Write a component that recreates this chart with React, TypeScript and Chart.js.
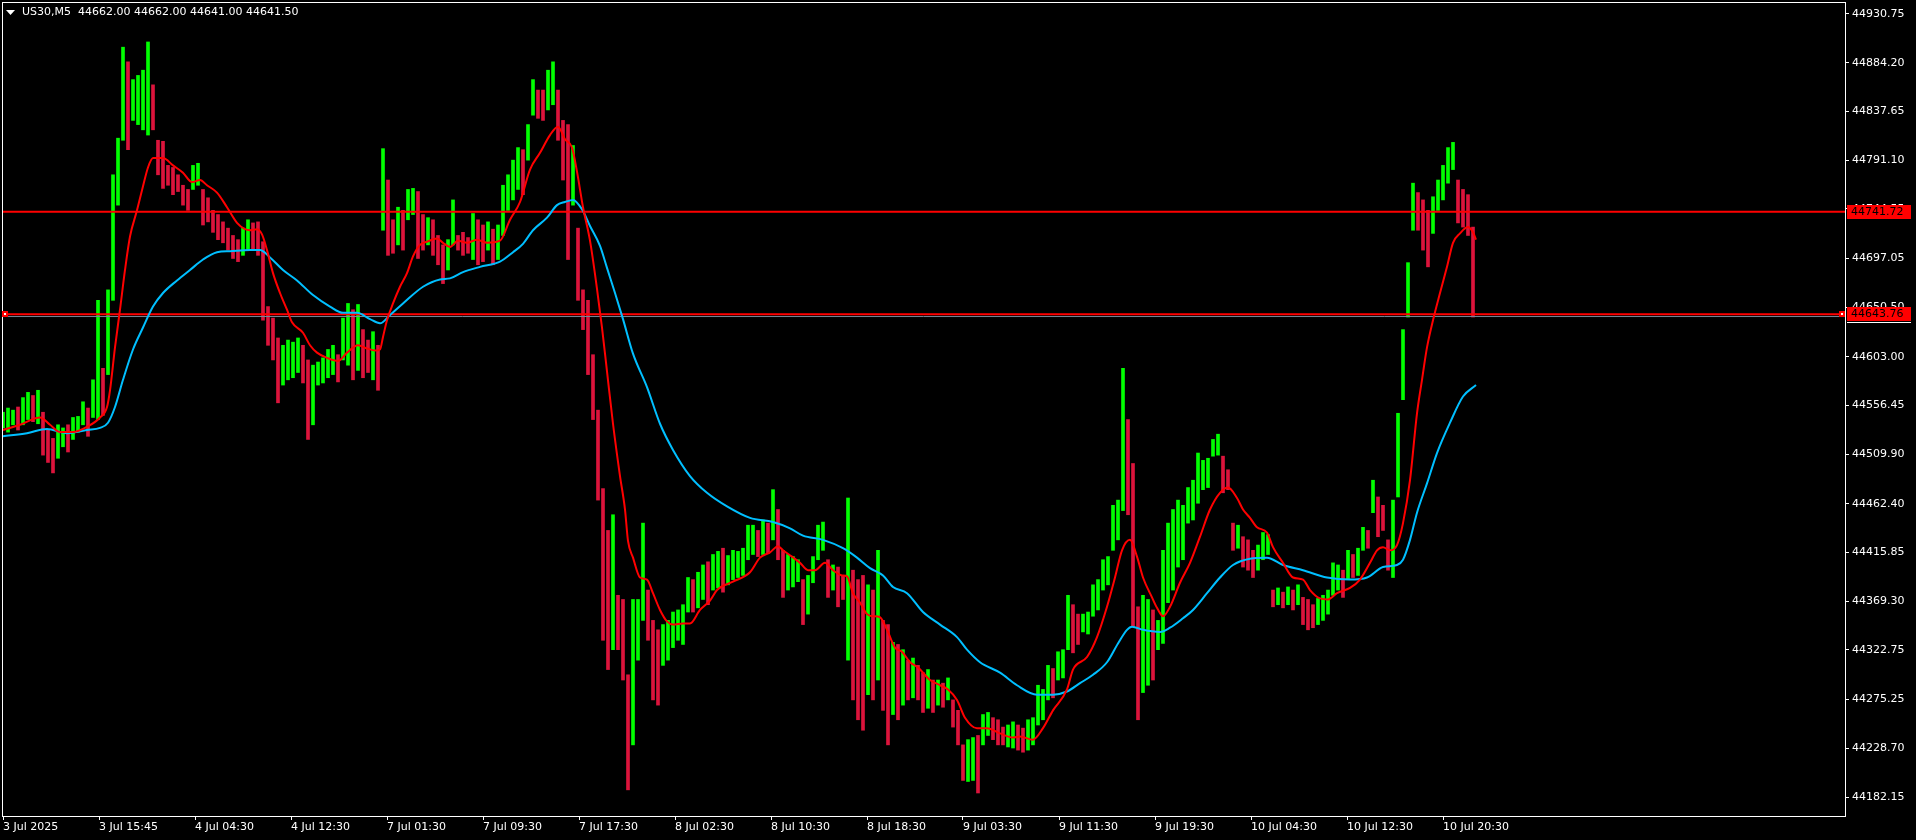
import React, { useEffect, useRef } from "react";
import { Chart, registerables } from "chart.js";

Chart.register(...registerables);

// ---------- chart data ----------
const symbolTitle = "US30,M5  44662.00 44662.00 44641.00 44641.50";
const barsPerSample = 5; // each sample summarises 5 M5 bars

const sampleHighs = [
  44550, 44554, 44552, 44555, 44564, 44569, 44566, 44571, 44550, 44533,
  44525, 44538, 44535, 44538, 44545, 44546, 44560, 44554, 44581, 44657,
  44592, 44667, 44777, 44812, 44899, 44885, 44868, 44872, 44877, 44904,
  44863, 44810, 44809, 44786, 44784, 44777, 44767, 44763, 44786, 44788,
  44763, 44755, 44743, 44739, 44732, 44726, 44719, 44715, 44726, 44734,
  44731, 44732, 44713, 44651, 44640, 44621, 44614, 44619, 44617, 44621,
  44614, 44600, 44595, 44598, 44602, 44610, 44614, 44605, 44640, 44654,
  44648, 44653, 44629, 44619, 44627, 44614, 44802, 44772, 44734, 44746,
  44743, 44763, 44764, 44761, 44739, 44736, 44734, 44719, 44710, 44715,
  44753, 44719, 44722, 44717, 44740, 44734, 44729, 44732, 44725, 44729,
  44767, 44777, 44791, 44803, 44801, 44825, 44868, 44858, 44858, 44877,
  44885, 44858, 44829, 44825, 44805, 44726, 44667, 44657, 44605, 44552,
  44477, 44437, 44452, 44375, 44371, 44299, 44371, 44371, 44444, 44380,
  44351, 44342, 44347, 44351, 44359, 44361, 44366, 44392, 44390, 44397,
  44404, 44407, 44414, 44417, 44420, 44413, 44418, 44417, 44420, 44442,
  44442, 44437, 44447, 44444, 44476, 44457, 44418, 44414, 44412, 44409,
  44390, 44394, 44412, 44442, 44445, 44409, 44404, 44402, 44394, 44468,
  44399, 44390, 44394, 44385, 44380, 44418, 44351, 44347, 44330, 44328,
  44323, 44313, 44315, 44308, 44301, 44304, 44294, 44294, 44291, 44296,
  44275, 44265, 44232, 44237, 44239, 44241, 44261, 44263, 44258, 44256,
  44249, 44251, 44254, 44251, 44248, 44256, 44258, 44289, 44285, 44308,
  44305, 44321, 44323, 44375, 44366, 44357, 44357, 44359, 44385, 44390,
  44409, 44412, 44461, 44466, 44592, 44543, 44501, 44364, 44375, 44371,
  44361, 44351, 44418, 44444, 44457, 44466, 44461, 44478, 44485, 44511,
  44504, 44506, 44524, 44529, 44508, 44495, 44444, 44442, 44431, 44428,
  44418, 44423, 44435, 44433, 44380, 44382, 44378, 44383, 44380, 44385,
  44373, 44371, 44366, 44372, 44375, 44380, 44406, 44404, 44399, 44418,
  44414, 44420, 44440, 44437, 44485, 44469, 44461, 44428, 44466, 44549,
  44629, 44693, 44769, 44760, 44753, 44743, 44756, 44772, 44786, 44803,
  44808, 44772, 44763, 44758, 44727,
];

const sampleLows = [
  44535, 44531, 44538, 44533, 44538, 44543, 44541, 44539, 44509, 44502,
  44492, 44506, 44517, 44512, 44524, 44531, 44538, 44527, 44545, 44543,
  44547, 44586, 44657, 44748, 44810, 44801, 44829, 44825, 44820, 44815,
  44820, 44777, 44764, 44767, 44758, 44761, 44748, 44743, 44763, 44767,
  44729, 44732, 44722, 44715, 44712, 44705, 44697, 44694, 44700, 44705,
  44705, 44700, 44638, 44614, 44600, 44559, 44576, 44581, 44583, 44588,
  44578, 44524, 44538, 44576, 44578, 44583, 44586, 44579, 44600, 44595,
  44581, 44590, 44583, 44588, 44581, 44571, 44724, 44700, 44702, 44710,
  44705, 44734, 44739, 44697, 44705, 44710, 44700, 44691, 44673, 44686,
  44710, 44705, 44700, 44702, 44696, 44691, 44694, 44705, 44691, 44696,
  44719, 44743, 44753, 44763, 44758, 44791, 44834, 44831, 44829, 44839,
  44844, 44810, 44772, 44696, 44748, 44657, 44629, 44586, 44543, 44466,
  44332, 44304, 44323, 44323, 44294, 44189, 44232, 44313, 44351, 44332,
  44275, 44270, 44308, 44313, 44325, 44332, 44328, 44359, 44359, 44363,
  44371, 44366, 44380, 44382, 44378, 44385, 44390, 44392, 44394, 44409,
  44414, 44412, 44414, 44415, 44428, 44409, 44373, 44380, 44383, 44388,
  44347, 44357, 44387, 44409, 44418, 44373, 44380, 44364, 44371, 44313,
  44275, 44256, 44246, 44280, 44275, 44294, 44265, 44232, 44261, 44256,
  44270, 44275, 44277, 44275, 44263, 44267, 44263, 44270, 44268, 44275,
  44249, 44232, 44198, 44197, 44198, 44186, 44232, 44241, 44237, 44232,
  44232, 44230, 44229, 44227, 44225, 44227, 44232, 44251, 44256, 44275,
  44277, 44294, 44296, 44323, 44320, 44328, 44340, 44338, 44355, 44361,
  44380, 44385, 44418, 44428, 44456, 44452, 44345, 44256, 44282, 44289,
  44294, 44323, 44329, 44368, 44380, 44402, 44409, 44444, 44447, 44463,
  44476, 44478, 44508, 44509, 44473, 44476, 44418, 44420, 44402, 44399,
  44392, 44399, 44409, 44414, 44364, 44366, 44363, 44366, 44361, 44366,
  44347, 44342, 44344, 44347, 44351, 44357, 44375, 44380, 44373, 44390,
  44392, 44394, 44418, 44420, 44454, 44431, 44437, 44399, 44392, 44469,
  44562, 44641, 44724, 44724, 44705, 44689, 44721, 44743, 44753, 44769,
  44782, 44731, 44727, 44719, 44641,
];

// fast moving average (red), bar index -> price
const fastMaBars = [
  0, 17, 37, 47, 57, 70, 84, 97, 104, 107, 112, 117, 122, 127, 134, 140, 145, 150, 160, 170,
  180, 189, 197, 204, 214, 224, 234, 242, 247, 254, 259, 264, 270, 277, 284, 289, 300, 307, 314, 324,
  335, 344, 355, 364, 372, 377, 380, 384, 390, 397, 404, 410, 417, 424, 434, 440, 447, 455, 464, 474,
  484, 497, 507, 517, 527, 537, 547, 555, 562, 569, 574, 580, 587, 594, 599, 604, 610, 617, 622, 625,
  630, 637, 644, 650, 657, 664, 670, 680, 687, 697, 707, 714, 730, 747, 757, 767, 775, 780, 789, 797,
  805, 812, 822, 830, 839, 844, 850, 857, 864, 870, 877, 884, 892, 899, 907, 915, 927, 937, 945, 954,
  962, 974, 984, 997, 1010, 1017, 1030, 1040, 1050, 1064, 1070, 1084, 1094, 1104, 1112, 1119, 1127, 1134, 1140, 1149,
  1154, 1160, 1167, 1177, 1187, 1197, 1207, 1217, 1225, 1234, 1240, 1247, 1254, 1264, 1270, 1280, 1290, 1300, 1307, 1317,
  1325, 1334, 1347, 1357, 1367, 1374, 1380, 1387, 1394, 1400, 1407, 1414, 1419, 1424, 1430, 1437, 1444, 1450, 1457, 1465,
  1470, 1473,
];
const fastMa = [
  44533, 44538, 44545, 44538, 44531, 44531, 44536, 44545, 44555, 44571, 44612, 44648, 44686, 44718, 44743, 44766, 44784, 44793, 44793, 44786,
  44779, 44770, 44772, 44767, 44760, 44746, 44731, 44725, 44724, 44725, 44720, 44705, 44683, 44664, 44648, 44636, 44626, 44614, 44607, 44602,
  44599, 44607, 44614, 44611, 44609, 44610, 44622, 44638, 44654, 44670, 44683, 44699, 44710, 44713, 44716, 44712, 44708, 44714, 44712, 44715,
  44712, 44714, 44734, 44751, 44782, 44798, 44815, 44823, 44811, 44803, 44780, 44746, 44714, 44668, 44631, 44589, 44539, 44489, 44457, 44427,
  44411, 44392, 44390, 44377, 44361, 44350, 44347, 44348, 44348, 44361, 44370, 44380, 44388, 44397, 44411, 44416, 44422, 44418, 44412, 44406,
  44399, 44399, 44406, 44399, 44394, 44393, 44377, 44368, 44357, 44355, 44354, 44342, 44325, 44321, 44311, 44306, 44294, 44289, 44285, 44275,
  44258, 44248, 44248, 44243, 44239, 44240, 44237, 44248, 44265, 44285, 44304, 44316, 44335, 44364, 44392, 44418, 44428, 44412, 44392, 44373,
  44363, 44355, 44364, 44387, 44406, 44431, 44457, 44473, 44478, 44468, 44457, 44449, 44440, 44435, 44421, 44406, 44392, 44390, 44380, 44372,
  44371, 44377, 44382, 44390, 44406, 44418, 44421, 44418, 44423, 44444, 44485, 44549, 44581, 44612, 44638, 44664, 44689, 44712, 44721, 44727,
  44722, 44715,
];

// slow moving average (blue)
const slowMaBars = [
  0, 24, 44, 64, 84, 97, 105, 112, 120, 130, 140, 150, 160, 174, 187, 200, 214, 227, 247, 257,
  267, 280, 294, 310, 327, 340, 354, 367, 377, 387, 400, 420, 437, 447, 460, 477, 497, 510, 520, 530,
  544, 554, 562, 570, 579, 587, 597, 604, 612, 620, 630, 644, 657, 670, 687, 704, 724, 747, 770, 787,
  800, 820, 840, 854, 867, 880, 890, 904, 920, 937, 954, 964, 977, 997, 1014, 1034, 1050, 1064, 1077, 1090,
  1104, 1115, 1124, 1129, 1140, 1157, 1167, 1180, 1190, 1204, 1217, 1230, 1247, 1264, 1280, 1300, 1324, 1347, 1364, 1380,
  1394, 1400, 1407, 1414, 1424, 1434, 1447, 1460, 1473,
];
const slowMa = [
  44527, 44530, 44534, 44530, 44533, 44535, 44540, 44555, 44581, 44610, 44631, 44651, 44664, 44676, 44686, 44696, 44703, 44704, 44705, 44705,
  44698, 44686, 44676, 44662, 44651, 44645, 44645, 44639, 44635, 44643, 44654, 44670, 44677, 44678, 44684, 44689, 44694, 44703, 44711, 44724,
  44736, 44748, 44751, 44753, 44744, 44728, 44709, 44688, 44664, 44639, 44606, 44574, 44539, 44514, 44489, 44473, 44460, 44449, 44445, 44439,
  44432, 44428, 44420, 44411, 44401, 44394, 44383, 44377, 44359, 44347, 44335, 44323, 44311, 44301, 44289, 44280, 44280, 44283, 44291, 44299,
  44311, 44329, 44342, 44345, 44342, 44340, 44344, 44353, 44361, 44377, 44392, 44404, 44410, 44411, 44404, 44399, 44392, 44390, 44392, 44402,
  44404, 44409, 44428, 44454, 44482, 44511, 44540, 44565, 44576,
];

const levelPrices = [44741.72, 44643.76];
const bidPrice = 44641.5;

const priceTicks = [
  44930.75, 44884.2, 44837.65, 44791.1, 44744.55, 44697.05, 44650.5, 44603.0, 44556.45,
  44509.9, 44462.4, 44415.85, 44369.3, 44322.75, 44275.25, 44228.7, 44182.15,
];
const priceMin = 44164.0;
const priceMax = 44942.2;

const timeTickBars = [0, 96, 192, 288, 384, 480, 576, 672, 768, 864, 960, 1056, 1152, 1248, 1344, 1440];
const timeTickLabels = [
  "3 Jul 2025", "3 Jul 15:45", "4 Jul 04:30", "4 Jul 12:30", "7 Jul 01:30", "7 Jul 09:30",
  "7 Jul 17:30", "8 Jul 02:30", "8 Jul 10:30", "8 Jul 18:30", "9 Jul 03:30", "9 Jul 11:30",
  "9 Jul 19:30", "10 Jul 04:30", "10 Jul 12:30", "10 Jul 20:30",
];
const barsOnScreen = 1843;

// ---------- styles ----------
const FONT = '"DejaVu Sans", sans-serif';
const UP = "#00ff00";
const DOWN = "#dc143c";

export default function App() {
  const ref = useRef<HTMLCanvasElement>(null);

  useEffect(() => {
    const canvas = ref.current;
    if (!canvas) return;

    const mids = sampleHighs.map((h, i) => (h + sampleLows[i]) / 2);
    const barData = sampleHighs.map((h, i) => ({ x: i * barsPerSample, y: [sampleLows[i], h] }));
    const barColors = mids.map((m, i) => (i === 0 || m >= mids[i - 1] ? UP : DOWN));
    const fastData = fastMaBars.map((b, i) => ({ x: b, y: fastMa[i] }));
    const slowData = slowMaBars.map((b, i) => ({ x: b, y: slowMa[i] }));
    const xMin = -1;
    const xMax = barsOnScreen - 1;
    const hline = (v: number) => [{ x: xMin, y: v }, { x: xMax, y: v }];

    const overlay = {
      id: "mt4overlay",
      afterDraw(chart: any) {
        const ctx = chart.ctx;
        const { left, top, right, bottom } = chart.chartArea;
        const ys = chart.scales.y;
        ctx.save();
        // frame
        ctx.strokeStyle = "#ffffff";
        ctx.lineWidth = 1;
        ctx.strokeRect(left + 0.5, top + 0.5, right - left, bottom - top);
        // title
        ctx.fillStyle = "#ffffff";
        ctx.beginPath();
        ctx.moveTo(6, 10);
        ctx.lineTo(15, 10);
        ctx.lineTo(10.5, 15);
        ctx.closePath();
        ctx.fill();
        ctx.font = `11px ${FONT}`;
        ctx.textBaseline = "middle";
        ctx.textAlign = "left";
        ctx.fillText(symbolTitle, 22, 12.5);
        // level labels on the price axis
        levelPrices.forEach((p, i) => {
          const y = Math.round(ys.getPixelForValue(p));
          ctx.fillStyle = "#ff0000";
          ctx.fillRect(right + 2, y - 7, 64, 14);
          ctx.fillStyle = "#000000";
          ctx.fillText(p.toFixed(2), right + 6, y + 0.5);
          if (i === 1) {
            ctx.fillStyle = "#ffffff";
            ctx.fillRect(right + 2, y + 8, 64, 1);
            // selection handles
            [left, right - 6].forEach((hx) => {
              ctx.fillStyle = "#ff0000";
              ctx.fillRect(hx, y - 3, 6, 6);
              ctx.fillStyle = "#ffffff";
              ctx.fillRect(hx + 2, y - 1, 2, 2);
            });
          }
        });
        ctx.restore();
      },
    };

    const chart = new Chart(canvas, {
      type: "bar",
      data: {
        datasets: [
          {
            type: "line",
            data: fastData,
            borderColor: "#ff0000",
            borderWidth: 2,
            pointRadius: 0,
            cubicInterpolationMode: "monotone",
            order: 1,
          } as any,
          {
            type: "line",
            data: slowData,
            borderColor: "#00bfff",
            borderWidth: 2,
            pointRadius: 0,
            cubicInterpolationMode: "monotone",
            order: 2,
          } as any,
          {
            type: "line",
            data: hline(levelPrices[0]),
            borderColor: "#ff0000",
            borderWidth: 2,
            pointRadius: 0,
            order: 3,
          } as any,
          {
            type: "line",
            data: hline(levelPrices[1]),
            borderColor: "#ff0000",
            borderWidth: 2,
            pointRadius: 0,
            order: 3,
          } as any,
          {
            type: "line",
            data: hline(bidPrice),
            borderColor: "#778899",
            borderWidth: 1,
            pointRadius: 0,
            order: 4,
          } as any,
          {
            type: "bar",
            data: barData,
            backgroundColor: barColors,
            borderWidth: 0,
            barThickness: 3,
            order: 10,
          } as any,
        ],
      },
      options: {
        animation: false,
        responsive: false,
        maintainAspectRatio: false,
        events: [],
        layout: { padding: { left: 2, top: 2, right: 0, bottom: 0 } },
        plugins: { legend: { display: false }, tooltip: { enabled: false }, title: { display: false } },
        scales: {
          x: {
            type: "linear",
            position: "bottom",
            min: xMin,
            max: xMax,
            offset: false,
            grid: { display: true, drawOnChartArea: false, drawTicks: true, tickLength: 4, color: "#ffffff", offset: false },
            border: { display: false },
            afterBuildTicks: (scale: any) => {
              scale.ticks = timeTickBars.map((v) => ({ value: v }));
            },
            afterFit: (scale: any) => {
              scale.height = 24;
              scale.paddingLeft = 0;
              scale.paddingRight = 0;
            },
            ticks: {
              color: "#ffffff",
              font: { family: FONT, size: 11 },
              align: "start",
              maxRotation: 0,
              minRotation: 0,
              autoSkip: false,
              padding: 1,
              callback: (v: any) => {
                const k = timeTickBars.indexOf(Number(v));
                return k >= 0 ? timeTickLabels[k] : "";
              },
            },
          },
          y: {
            type: "linear",
            position: "right",
            min: priceMin,
            max: priceMax,
            grid: { display: true, drawOnChartArea: false, drawTicks: true, tickLength: 4, color: "#ffffff" },
            border: { display: false },
            afterBuildTicks: (scale: any) => {
              scale.ticks = priceTicks.map((v) => ({ value: v }));
            },
            afterFit: (scale: any) => {
              scale.width = 71;
              scale.paddingTop = 0;
              scale.paddingBottom = 0;
            },
            ticks: {
              color: "#ffffff",
              font: { family: FONT, size: 11 },
              padding: 3,
              autoSkip: false,
              callback: (v: any) => Number(v).toFixed(2),
            },
          },
        },
      } as any,
      plugins: [overlay],
    });

    return () => chart.destroy();
  }, []);

  return (
    <div style={{ position: "fixed", left: 0, top: 0, width: 1916, height: 840, background: "#000000" }}>
      <canvas ref={ref} width={1916} height={840} style={{ display: "block", width: 1916, height: 840 }} />
    </div>
  );
}
